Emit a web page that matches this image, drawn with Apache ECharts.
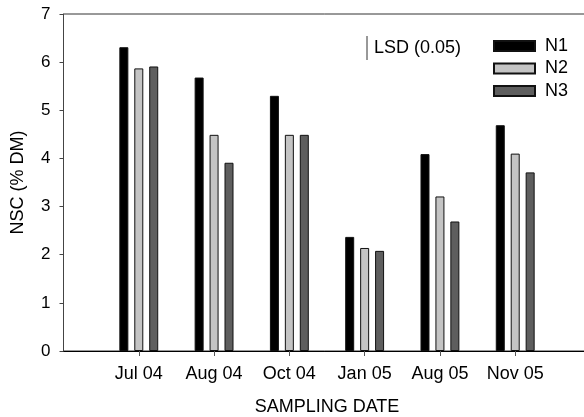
<!DOCTYPE html>
<html>
<head>
<meta charset="utf-8">
<script src="https://cdn.jsdelivr.net/npm/echarts@6/dist/echarts.min.js"></script>
<style>
  html, body { margin: 0; padding: 0; background: #fff; }
  #chart { width: 584px; height: 417px; }
</style>
</head>
<body>
<div id="chart"></div>
<script>
// sampling dates on the x axis
const categories = ['Jul 04', 'Aug 04', 'Oct 04', 'Jan 05', 'Aug 05', 'Nov 05']
const yTicks = [0, 1, 2, 3, 4, 5, 6, 7]
const legendNames = ['N1', 'N2', 'N3']

// NSC (% DM) per nitrogen level
const n1 = [6.31, 5.68, 5.30, 2.37, 4.09, 4.69]
const n2 = [5.87, 4.49, 4.49, 2.14, 3.21, 4.10]
const n3 = [5.91, 3.91, 4.49, 2.08, 2.69, 3.71]

const fills = ['#000000', '#c4c4c4', '#5e5e5e']
const font = 'Liberation Sans, Arial, sans-serif'

// padding slots at both ends so the first date sits one step in from the y axis
const axisCats = [''].concat(categories, [''])

const chart = echarts.init(document.getElementById('chart'), null, { renderer: 'canvas' })

chart.setOption({
  backgroundColor: '#fff',
  animation: false,
  grid: {
    left: 63.5,
    top: 14,
    width: 527,
    height: 337,
    outerBoundsMode: 'none',
    containLabel: false,
    show: true,
    borderColor: '#333',
    borderWidth: 1
  },
  legend: {
    data: legendNames,
    orient: 'vertical',
    left: 493,
    top: 37,
    padding: 0,
    itemWidth: 41,
    itemHeight: 10,
    itemGap: 4.5,
    icon: 'rect',
    textStyle: {
      fontFamily: font,
      fontSize: 18,
      color: '#000',
      padding: [0, 0, 0, 5],
      lineHeight: 18
    }
  },
  graphic: [{
    type: 'line',
    shape: { x1: 367, y1: 36, x2: 367, y2: 60 },
    style: { stroke: '#333', lineWidth: 1 }
  }, {
    type: 'text',
    left: 374,
    top: 39,
    style: {
      text: 'LSD (0.05)',
      font: '18px ' + font,
      fill: '#000'
    }
  }],
  xAxis: {
    type: 'category',
    data: axisCats,
    boundaryGap: false,
    name: 'SAMPLING DATE',
    nameLocation: 'middle',
    nameGap: 47,
    nameTextStyle: { fontFamily: font, fontSize: 18, color: '#000' },
    axisLine: { lineStyle: { color: '#000', width: 1 } },
    axisTick: {
      length: 5,
      interval: (i) => i > 0 && i < axisCats.length - 1,
      lineStyle: { color: '#555' }
    },
    axisLabel: {
      interval: 0,
      margin: 14,
      fontFamily: font,
      fontSize: 18,
      color: '#000'
    },
    splitLine: { show: false }
  },
  yAxis: {
    type: 'value',
    min: yTicks[0],
    max: yTicks[yTicks.length - 1],
    interval: 1,
    name: 'NSC (% DM)',
    nameLocation: 'middle',
    nameGap: 36,
    nameTextStyle: { fontFamily: font, fontSize: 18, color: '#000' },
    axisLine: { show: true, lineStyle: { color: '#444', width: 1 } },
    axisTick: { show: true, length: 4, lineStyle: { color: '#444' } },
    axisLabel: {
      margin: 13,
      fontFamily: font,
      fontSize: 17,
      color: '#000'
    },
    splitLine: { show: false }
  },
  series: [n1, n2, n3].map((vals, i) => {
    return {
      name: legendNames[i],
      type: 'bar',
      barWidth: 9,
      barGap: '66%',
      itemStyle: {
        color: fills[i],
        borderColor: '#111',
        borderWidth: 1
      },
      // shift by one to skip the blank padding slot
      data: [null].concat(vals, [null])
    }
  })
})
</script>
</body>
</html>
